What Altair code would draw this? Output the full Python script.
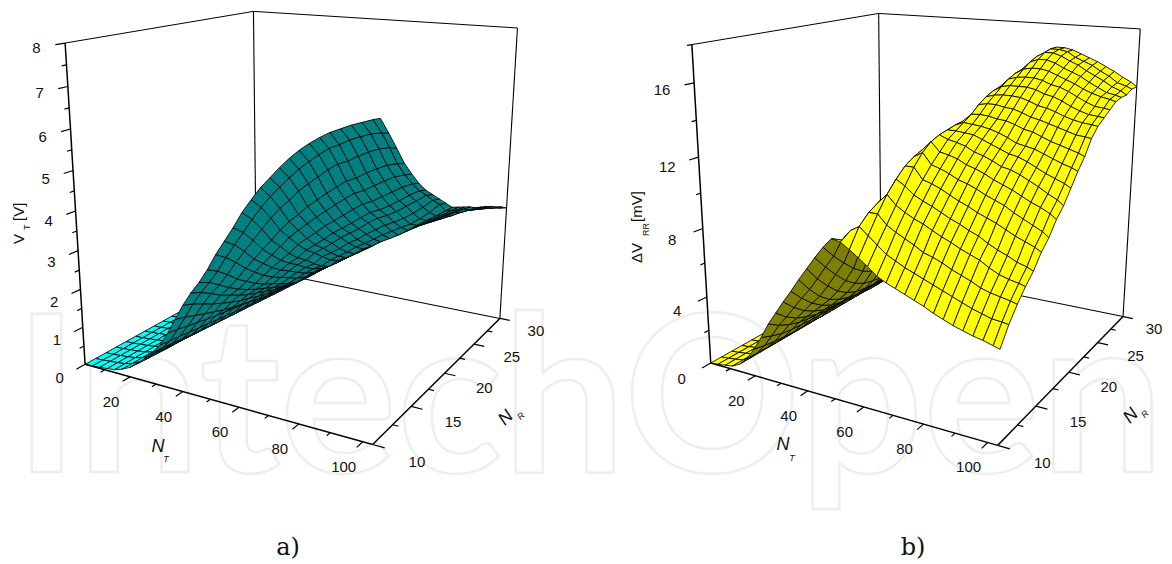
import numpy as np
import pandas as pd
import altair as alt

NT = [2, 5, 8, 11, 14, 17, 20, 23, 26, 29, 32, 35, 38, 41, 44, 47, 50, 53, 56, 59, 62, 65, 68, 71, 74, 77, 80, 83, 86, 89, 92, 95, 98, 101, 103]
NR = list(range(10, 31))

# V_T [V]: one row per NT value, one column per NR value
VT = [
[0]*21,
[.01]*21,
[.03]*21,
[.05]*21,
[.08]*21,
[.15,.14,.14,.13,.12,.12,.11,.1,.09,.08,.08,.07,.06,.05,.05,.04,.04,.03,.03,.02,.02],
[.25,.24,.23,.22,.21,.2,.18,.17,.15,.14,.13,.11,.1,.09,.08,.07,.06,.05,.05,.04,.04],
[.4,.38,.36,.34,.33,.31,.29,.27,.25,.23,.21,.19,.17,.15,.13,.12,.1,.09,.08,.07,.06],
[.6,.58,.55,.52,.5,.47,.45,.42,.4,.38,.37,.35,.32,.3,.28,.25,.23,.21,.18,.16,.14],
[.8,.77,.74,.7,.67,.64,.61,.58,.55,.52,.5,.48,.45,.43,.4,.38,.36,.33,.31,.28,.26],
[1.05,1.01,.98,.94,.9,.87,.83,.8,.76,.73,.7,.68,.65,.63,.6,.58,.55,.53,.5,.48,.45],
[1.4,1.36,1.29,1.24,1.18,1.13,1.09,1.05,1.01,.96,.93,.9,.88,.85,.82,.8,.77,.74,.71,.69,.66],
[1.8,1.72,1.62,1.52,1.43,1.34,1.27,1.2,1.14,1.08,1.02,.99,.97,.94,.91,.89,.86,.83,.8,.78,.75],
[2.2,2.1,1.96,1.82,1.7,1.59,1.49,1.42,1.33,1.26,1.19,1.16,1.13,1.1,1.07,1.04,1,.97,.94,.91,.88],
[2.55,2.43,2.27,2.09,1.96,1.82,1.7,1.61,1.52,1.42,1.35,1.32,1.29,1.26,1.23,1.2,1.17,1.14,1.11,1.08,1.05],
[2.85,2.72,2.53,2.33,2.16,2.01,1.89,1.78,1.67,1.56,1.48,1.45,1.42,1.39,1.36,1.33,1.29,1.26,1.23,1.2,1.17],
[3.2,3.04,2.83,2.59,2.4,2.22,2.07,1.95,1.81,1.7,1.6,1.57,1.55,1.52,1.5,1.47,1.44,1.42,1.39,1.37,1.34],
[3.6,3.41,3.17,2.9,2.68,2.47,2.3,2.16,2.02,1.88,1.78,1.75,1.72,1.68,1.65,1.62,1.59,1.56,1.52,1.49,1.46],
[3.95,3.75,3.48,3.17,2.94,2.71,2.52,2.37,2.21,2.06,1.95,1.92,1.88,1.85,1.82,1.79,1.75,1.72,1.69,1.65,1.62],
[4.3,4.08,3.78,3.45,3.19,2.94,2.74,2.58,2.38,2.22,2.1,2.07,2.04,2,1.97,1.94,1.91,1.88,1.84,1.81,1.78],
[4.68,4.42,4.09,3.71,3.44,3.15,2.92,2.74,2.52,2.34,2.2,2.17,2.15,2.12,2.09,2.07,2.04,2.01,1.98,1.96,1.93],
[5,4.73,4.38,3.99,3.7,3.41,3.16,2.96,2.75,2.54,2.4,2.37,2.34,2.31,2.28,2.25,2.22,2.19,2.16,2.13,2.1],
[5.3,5.01,4.64,4.23,3.91,3.6,3.33,3.12,2.89,2.68,2.52,2.49,2.47,2.44,2.41,2.39,2.36,2.33,2.3,2.28,2.25],
[5.55,5.25,4.86,4.43,4.1,3.78,3.51,3.29,3.04,2.83,2.66,2.63,2.61,2.58,2.56,2.53,2.5,2.48,2.45,2.43,2.4],
[5.8,5.49,5.1,4.65,4.3,3.98,3.7,3.47,3.22,3,2.83,2.81,2.79,2.77,2.75,2.73,2.7,2.68,2.66,2.64,2.62],
[6.03,5.71,5.3,4.84,4.48,4.14,3.85,3.62,3.35,3.13,2.95,2.93,2.92,2.9,2.88,2.87,2.85,2.83,2.81,2.8,2.78],
[6.23,5.9,5.48,5.02,4.66,4.31,4.01,3.77,3.52,3.28,3.1,3.08,3.06,3.04,3.02,3,2.98,2.96,2.94,2.92,2.9],
[6.4,6.08,5.67,5.2,4.83,4.48,4.18,3.95,3.67,3.43,3.22,3.2,3.17,3.14,3.12,3.1,3.08,3.05,3.03,3,2.97],
[6.55,6.24,5.82,5.36,4.99,4.64,4.34,4.1,3.82,3.56,3.35,3.32,3.29,3.25,3.19,3.2,3.17,3.14,3.08,3.06,3],
[6.68,6.35,5.92,5.46,5.09,4.74,4.44,4.2,3.93,3.69,3.51,3.46,3.42,3.38,3.3,3.29,3.26,3.21,3.14,3.11,3.03],
[6.78,6.47,6.05,5.6,5.23,4.88,4.57,4.33,4.06,3.81,3.67,3.61,3.56,3.5,3.41,3.39,3.34,3.29,3.2,3.15,3.07],
[6.88,6.57,6.17,5.72,5.36,5.02,4.72,4.49,4.22,3.98,3.83,3.76,3.69,3.62,3.52,3.48,3.43,3.36,3.26,3.2,3.1],
[6.96,6.65,6.26,5.83,5.49,5.16,4.88,4.65,4.4,4.17,3.98,3.9,3.82,3.75,3.64,3.58,3.51,3.43,3.32,3.25,3.13],
[7.04,6.7,6.32,5.89,5.56,5.27,5.02,4.82,4.6,4.4,4.14,4.05,3.96,3.87,3.75,3.68,3.59,3.5,3.38,3.3,3.17],
[7.08,6.71,6.32,5.92,5.6,5.3,5.05,4.85,4.65,4.45,4.25,4.15,4.05,3.95,3.82,3.74,3.65,3.55,3.42,3.33,3.2],
]

# Delta V_RR [mV]: one row per NT value, one column per NR value
DV = [
[0]*21,
[.05]*21,
[.12]*21,
[.2]*21,
[.45]*21,
[.9,.88,.87,.86,.85,.85,.85,.85,.85,.85,.85,.85,.83,.83,.83,.83,.8,.8,.8,.8,.8],
[1.6,1.45,1.35,1.3,1.25,1.25,1.25,1.2,1.2,1.2,1.2,1.2,1.2,1.15,1.15,1.15,1.15,1.1,1.1,1.1,1.1],
[2.4,2.15,1.95,1.85,1.8,1.75,1.75,1.7,1.7,1.7,1.7,1.65,1.65,1.6,1.6,1.6,1.55,1.55,1.5,1.5,1.5],
[3.3,2.9,2.6,2.4,2.3,2.3,2.25,2.2,2.2,2.2,2.2,2.15,2.1,2.1,2.05,2,2,2,1.95,1.9,1.9],
[4.05,3.5,3.1,2.85,2.65,2.55,2.55,2.5,2.5,2.5,2.5,2.45,2.45,2.45,2.4,2.35,2.35,2.3,2.3,2.25,2.25],
[4.8,4.15,3.65,3.3,3.05,2.95,2.9,2.9,2.85,2.85,2.85,2.85,2.85,2.8,2.8,2.8,2.75,2.75,2.7,2.7,2.7],
[5.5,4.8,4.2,3.75,3.45,3.3,3.25,3.2,3.2,3.2,3.2,3.2,3.2,3.2,3.2,3.15,3.15,3.15,3.1,3.1,3.1],
[6.25,5.4,4.7,4.2,3.9,3.7,3.6,3.6,3.6,3.6,3.6,3.6,3.6,3.6,3.6,3.6,3.6,3.6,3.5,3.5,3.5],
[6.95,6.1,5.4,4.8,4.4,4.15,4.05,4,4,4,4,4,4,4,4,4,4,4,4,4,4],
[7.65,6.85,6.15,5.5,5.05,4.75,4.6,4.5,4.5,4.5,4.55,4.55,4.55,4.6,4.6,4.6,4.6,4.6,4.7,4.7,4.7],
[8.3,7.55,6.9,6.3,5.85,5.55,5.35,5.25,5.25,5.25,5.3,5.3,5.3,5.3,5.4,5.4,5.4,5.5,5.5,5.5,5.5],
[8.85,8.5,8,7.6,7.2,7,6.9,6.8,6.8,6.8,6.8,6.8,6.7,6.7,6.7,6.6,6.6,6.6,6.5,6.5,6.5],
[8.75,9.1,9,8.9,8.8,8.7,8.6,8.6,8.6,8.6,8.5,8.5,8.4,8.3,8.2,8.1,8,7.9,7.8,7.7,7.6],
[8.45,9.4,9.9,10.2,10.4,10.6,10.5,10.5,10.5,10.4,10.3,10.2,10.1,9.9,9.7,9.6,9.4,9.2,9.1,9,8.9],
[8.1,9,9.9,10.7,11.3,11.8,12.1,12.3,12.4,12.4,12.3,12.2,12,11.8,11.5,11.2,11,10.8,10.6,10.5,10.3],
[7.75,8.6,9.4,10.2,11,11.8,12.4,12.8,13,13.1,13.2,13.25,13.3,13.3,13.2,13,12.8,12.5,12.2,11.9,11.7],
[7.35,8.2,9.1,9.9,10.6,11.2,11.8,12.3,12.8,13.1,13.4,13.7,14.1,14.4,14.6,14.7,14.6,14.4,14.1,13.7,13.3],
[7.1,7.95,8.85,9.65,10.35,11.05,11.65,12.2,12.7,13.05,13.35,13.75,14.2,14.55,14.9,15.2,15.4,15.5,15.4,15.2,14.9],
[6.9,7.7,8.6,9.45,10.15,10.85,11.45,12.05,12.55,13,13.3,13.7,14.2,14.6,15,15.35,15.7,16,16.2,16.2,16],
[6.7,7.5,8.3,9.2,9.9,10.6,11.2,11.8,12.3,12.8,13.2,13.6,14.1,14.6,15,15.4,15.8,16.2,16.5,16.6,16.6],
[6.5,7.3,8.15,8.95,9.65,10.35,11.05,11.65,12.15,12.6,13.05,13.55,14.05,14.55,15,15.4,15.8,16.2,16.5,16.6,16.6],
[6.3,7.1,7.95,8.75,9.45,10.15,10.85,11.45,11.95,12.4,12.85,13.4,13.9,14.4,14.9,15.3,15.7,16.05,16.35,16.5,16.5],
[6.05,6.9,7.7,8.5,9.2,9.9,10.6,11.2,11.7,12.2,12.6,13.2,13.7,14.2,14.7,15.1,15.5,15.8,16.1,16.2,16.3],
[5.85,6.7,7.5,8.3,9,9.7,10.4,11,11.6,12.1,12.5,13.1,13.6,14.1,14.6,15,15.3,15.6,15.9,16,16.1],
[5.65,6.5,7.3,8.1,8.7,9.5,10.2,10.8,11.4,11.9,12.4,12.9,13.45,13.95,14.4,14.8,15.1,15.4,15.6,15.8,15.9],
[5.5,6.3,7.05,7.8,8.45,9.25,9.9,10.55,11.15,11.65,12.2,12.7,13.3,13.75,14.15,14.55,14.85,15.1,15.35,15.5,15.65],
[5.35,6.15,6.9,7.55,8.25,9,9.65,10.3,10.9,11.4,12,12.55,13.15,13.6,13.95,14.3,14.65,14.85,15.1,15.25,15.4],
[5.25,6,6.8,7.4,8,8.8,9.4,10.1,10.6,11.2,11.8,12.4,13,13.5,13.8,14.1,14.5,14.6,14.8,14.9,15.1],
[5.1,5.95,6.7,7.3,7.85,8.6,9.15,9.85,10.35,11,11.65,12.25,12.95,13.45,13.75,14.05,14.4,14.5,14.6,14.75,14.85],
[5,5.9,6.6,7.2,7.7,8.4,8.9,9.6,10.1,10.8,11.5,12.1,12.9,13.4,13.7,14,14.3,14.4,14.4,14.6,14.6],
]

NT_TICKS = [10, 20, 30, 40, 50, 60, 70, 80, 90, 100]
NT_LABELS = [20, 40, 60, 80, 100]
NR_TICKS = [10, 12.5, 15, 17.5, 20, 22.5, 25, 27.5, 30]
NR_LABELS = [10, 15, 20, 25, 30]
VT_TICKS = [0, .5, 1, 1.5, 2, 2.5, 3, 3.5, 4, 4.5, 5, 5.5, 6, 6.5, 7, 7.5, 8]
VT_LABELS = [0, 1, 2, 3, 4, 5, 6, 7, 8]
DV_TICKS = [0, 2, 4, 6, 8, 10, 12, 14, 16, 18]
DV_LABELS = [0, 4, 8, 12, 16]

# Perspective camera of each panel: box corners (unit cube) matched to the page.
CUBE = [(0,0,0),(1,0,0),(1,1,0),(0,1,0),(0,0,1),(0,1,1),(1,1,1),(0,0,.5)]
PAGE_A = [(85,363),(373,445),(500,318),(256,270),(65,43),(254,11),(517,28),(75.5,212)]
PAGE_B = [(710,362),(998,446),(1123,316),(881,268),(691,45),(879,13),(1140,29),(703,211)]

def camera(page):
    rows = []
    for (a, b, c), (u, v) in zip(CUBE, page):
        rows.append([a, b, c, 1, 0, 0, 0, 0, -u*a, -u*b, -u*c, -u])
        rows.append([0, 0, 0, 0, a, b, c, 1, -v*a, -v*b, -v*c, -v])
    return np.linalg.svd(np.array(rows, float))[2][-1].reshape(3, 4)

def maker(page, zmax):
    P = camera(page)
    def project(nt, nr, z):
        h = P @ np.array([(nt-2)/101, (nr-10)/20, z/zmax, 1.0])
        return float(h[0]/h[2]), float(h[1]/h[2])
    return project

pa = maker(PAGE_A, 8)
pb = maker(PAGE_B, 18)

quads, thin, thick, labels = [], [], [], []
seg = 0
def add(store, p1, p2, w):
    global seg
    seg += 1
    for k, (x, y) in enumerate((p1, p2)):
        store.append(dict(seg=seg, k=k, x=x, y=y, w=w))

def surface(name, Z, project, top, under):
    qid = 0
    for j in range(len(NR)-2, -1, -1):
        for i in range(len(NT)-1):
            idx = [(i,j),(i+1,j),(i+1,j+1),(i,j+1)]
            pts = [project(NT[a], NR[b], Z[a][b]) for a, b in idx]
            area = sum(pts[n][0]*pts[(n+1)%4][1]-pts[(n+1)%4][0]*pts[n][1] for n in range(4))
            colour = top if area < 0 else under
            qid += 1
            for k, (x, y) in enumerate(pts+[pts[0]]):
                quads.append(dict(q=f"{name}{qid:04d}", k=k, x=x, y=y, c=colour))

def frame(project, zmax):
    nt0, nt1, r0, r1 = 2, 103, 10, 30
    add(thin, project(nt0,r1,0), project(nt1,r1,0), 1.1)
    add(thin, project(nt0,r1,0), project(nt0,r1,zmax), 1.1)
    add(thin, project(nt1,r1,0), project(nt1,r1,zmax), 1.1)
    add(thin, project(nt0,r0,zmax), project(nt0,r1,zmax), 1.0)
    add(thin, project(nt0,r1,zmax), project(nt1,r1,zmax), 1.0)

def axes(project, zmax, zticks, zlabels, zext):
    nt0, nt1, r0, r1 = 2, 103, 10, 30
    add(thick, project(nt0,r0,0), project(nt1,r0,0), 1.5)
    add(thick, project(nt1,r0,0), project(nt1,r1,0), 1.5)
    add(thick, project(nt0,r0,0), project(nt0,r0,zmax), 1.5)
    for n in NT_TICKS:
        add(thick, project(n,r0,0), project(n,r0-(.7 if n in NT_LABELS else .4),0), 1.2)
    for r in NR_TICKS:
        add(thick, project(nt1,r,0), project(nt1+(3.6 if r in NR_LABELS else 1.8),r,0), 1.2)
    for t in zticks:
        add(thick, project(nt0,r0,t), project(nt0,r0-(.8 if t in zlabels else .4),t), 1.2)
    for n in NT_LABELS:
        x, y = project(n, r0, 0)
        labels.append(dict(t=str(n), x=x-19, y=y+25))
    for r in NR_LABELS:
        x, y = project(nt1+13, r, 0)
        labels.append(dict(t=str(r), x=min(x, 1154), y=y+5))
    for t in zlabels:
        x, y = project(nt0, r0-zext, t)
        labels.append(dict(t=str(t), x=x, y=y))

frame(pa, 8)
frame(pb, 18)
surface("a", VT, pa, "#00FFFF", "#008080")
surface("b", DV, pb, "#FFFF00", "#808000")
axes(pa, 8, VT_TICKS, VT_LABELS, 2.3)
axes(pb, 18, DV_TICKS, DV_LABELS, 2.6)

X = alt.X("x:Q", scale=alt.Scale(domain=[8, 1164], nice=False, zero=False), axis=None)
Y = alt.Y("y:Q", scale=alt.Scale(domain=[561, 8], nice=False, zero=False), axis=None)

def lines(rows):
    return alt.Chart(pd.DataFrame(rows)).mark_line(color="black", strokeCap="butt").encode(
        x=X, y=Y, detail="seg:N", order="k:Q",
        strokeWidth=alt.StrokeWidth("w:Q", scale=None))

def text(rows, **kw):
    return alt.Chart(pd.DataFrame(rows)).mark_text(font="Liberation Sans", color="#111111", **kw).encode(
        x=X, y=Y, text="t:N")

watermark = alt.Chart(pd.DataFrame([dict(t="IntechOpen", x=14, y=472)])).mark_text(
    font="Lato", fontWeight="bold", fontSize=219, align="left", baseline="alphabetic",
    fill="white", stroke="#eeeeee", strokeWidth=2.5).encode(x=X, y=Y, text="t:N")

surf = alt.Chart(pd.DataFrame(quads)).mark_line(stroke="#0a0a0a", strokeWidth=0.9, strokeJoin="round").encode(
    x=X, y=Y, detail="q:N", order="k:Q", fill=alt.Fill("c:N", scale=None))

layers = [
    watermark,
    lines(thin),
    surf,
    lines(thick),
    text(labels, fontSize=15, align="center", baseline="middle"),
    text([dict(t="N", x=158, y=447), dict(t="N", x=783, y=445)], fontSize=18, fontStyle="italic", align="center", baseline="middle"),
    text([dict(t="T", x=166, y=459), dict(t="T", x=792, y=458)], fontSize=9, fontStyle="italic", align="center", baseline="middle"),
    text([dict(t="N", x=506, y=418), dict(t="N", x=1131, y=416)], fontSize=18, fontStyle="italic", angle=315, align="center", baseline="middle"),
    text([dict(t="R", x=521, y=416), dict(t="R", x=1145, y=414)], fontSize=9, fontStyle="italic", angle=315, align="center", baseline="middle"),
    text([dict(t="V", x=19, y=244), dict(t="[V]", x=19, y=221), dict(t="ΔV", x=637, y=263), dict(t="[mV]", x=637, y=222)], fontSize=15, angle=270, align="left", baseline="middle"),
    text([dict(t="T", x=27, y=230), dict(t="RR", x=646, y=236)], fontSize=9, angle=270, align="left", baseline="middle"),
    alt.Chart(pd.DataFrame([dict(t="a)", x=288, y=548), dict(t="b)", x=913, y=548)])).mark_text(
        font="DejaVu Serif", fontSize=24, color="#111111", align="center", baseline="middle").encode(x=X, y=Y, text="t:N"),
]

chart = alt.layer(*layers).properties(
    width=1156, height=553, padding=0, autosize=alt.AutoSizeParams(type="none")
).configure_view(stroke=None)

chart.save("out.html", embed_options={"renderer": "svg", "actions": False})
